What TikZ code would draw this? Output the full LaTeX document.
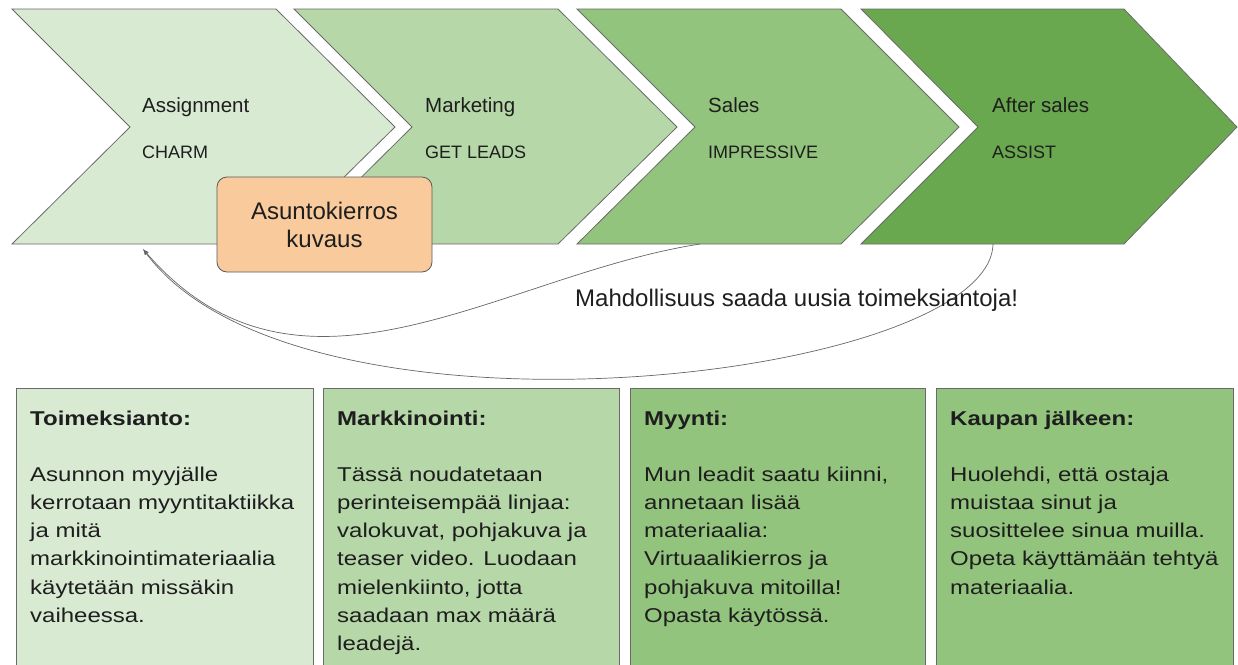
\documentclass[tikz,border=0pt]{standalone}
\usepackage{fontspec}
\setmainfont{Liberation Sans}
\newfontfamily\boxfont{Liberation Sans}[FakeStretch=1.2]
\usepackage{tikz}
\usetikzlibrary{arrows.meta}
\definecolor{greenA}{HTML}{D9EAD3}
\definecolor{greenB}{HTML}{B6D7A8}
\definecolor{greenC}{HTML}{93C47D}
\definecolor{greenD}{HTML}{6AA84F}
\definecolor{peach}{HTML}{F9CB9C}
\definecolor{edgegray}{HTML}{6A6A6A}
\definecolor{ink}{HTML}{1E1E1E}

\begin{document}
\begin{tikzpicture}[x=1pt,y=-1pt,
  chev/.style={draw=edgegray,line width=0.8pt},
  stagehead/.style={inner sep=0pt,anchor=base west,text=ink,font=\fontsize{20.5}{24}\selectfont},
  stagetag/.style={inner sep=0pt,anchor=base west,text=ink,font=\fontsize{18}{21}\selectfont},
  tourbox/.style={draw=black!65,fill=peach,line width=0.8pt,rounded corners=10pt,minimum width=215pt,minimum height=95pt,align=center,text=ink,font=\fontsize{24}{28}\selectfont},
  card/.style={draw=edgegray,line width=0.8pt},
  cardtext/.style={inner sep=0pt,anchor=north west,align=left,text=ink,font=\boxfont\fontsize{20}{28.3}\selectfont},
  loopback/.style={draw=black!60,line width=0.7pt,-{Latex[length=6pt,width=4.5pt]}}]
  \useasboundingbox (0,0) rectangle (1238,664);
  \clip (0,0) rectangle (1238,664);
  % Stage chevrons
  \filldraw[chev,fill=greenA](12,9)--(276,9)--(395,127)--(276,244)--(12,244)--(130,127)--cycle;
  \filldraw[chev,fill=greenB](294,9)--(558,9)--(677,127)--(558,244)--(294,244)--(412,127)--cycle;
  \filldraw[chev,fill=greenC](577,9)--(841,9)--(959,127)--(841,244)--(577,244)--(695,127)--cycle;
  \filldraw[chev,fill=greenD](861,9)--(1124,9)--(1237,127)--(1124,244)--(861,244)--(978,127)--cycle;
  \node[stagehead] (assign) at (142,112) {Assignment};
  \node[stagetag] (charm) at (142,158) {CHARM};
  \node[stagehead] (market) at (425,112) {Marketing};
  \node[stagetag] (leads) at (425,158) {GET LEADS};
  \node[stagehead] (sales) at (708,112) {Sales};
  \node[stagetag] (impress) at (708,158) {IMPRESSIVE};
  \node[stagehead] (after) at (992,112) {After sales};
  \node[stagetag] (assist) at (992,158) {ASSIST};
  % Tour box on top of first chevron
  \node[tourbox] (tour) at (324.5,224.5) {Asuntokierros\\kuvaus};
  % Loops back to the start
  \coordinate (start) at (143,249);
  \coordinate (salesend) at (700,244);
  \coordinate (afterend) at (993,244);
  \draw[loopback] (salesend) .. controls (500,275) and (300,430) .. (start);
  \draw[loopback] (afterend) .. controls (990,380) and (300,460) .. (start);
  \node[inner sep=0pt,anchor=base west,text=ink,font=\fontsize{24}{28}\selectfont] (chance) at (575,306) {Mahdollisuus saada uusia toimeksiantoja!};
  % Description cards
  \filldraw[card,fill=greenA] (16,388) rectangle (313,700);
  \filldraw[card,fill=greenB] (323,388) rectangle (619,700);
  \filldraw[card,fill=greenC] (630,388) rectangle (925,700);
  \filldraw[card,fill=greenC] (936,388) rectangle (1233,700);
  \node[cardtext] (card1) at (30,411) {\textbf{Toimeksianto:}\\[27pt]Asunnon myyjälle\\kerrotaan myyntitaktiikka\\ja mitä\\markkinointimateriaalia\\käytetään missäkin\\vaiheessa.};
  \node[cardtext] (card2) at (337,411) {\textbf{Markkinointi:}\\[27pt]Tässä noudatetaan\\perinteisempää linjaa:\\valokuvat, pohjakuva ja\\teaser video. Luodaan\\mielenkiinto, jotta\\saadaan max määrä\\leadejä.};
  \node[cardtext] (card3) at (644,411) {\textbf{Myynti:}\\[27pt]Mun leadit saatu kiinni,\\annetaan lisää\\materiaalia:\\Virtuaalikierros ja\\pohjakuva mitoilla!\\Opasta käytössä.};
  \node[cardtext] (card4) at (950,411) {\textbf{Kaupan jälkeen:}\\[27pt]Huolehdi, että ostaja\\muistaa sinut ja\\suosittelee sinua muilla.\\Opeta käyttämään tehtyä\\materiaalia.};
\end{tikzpicture}
\end{document}
